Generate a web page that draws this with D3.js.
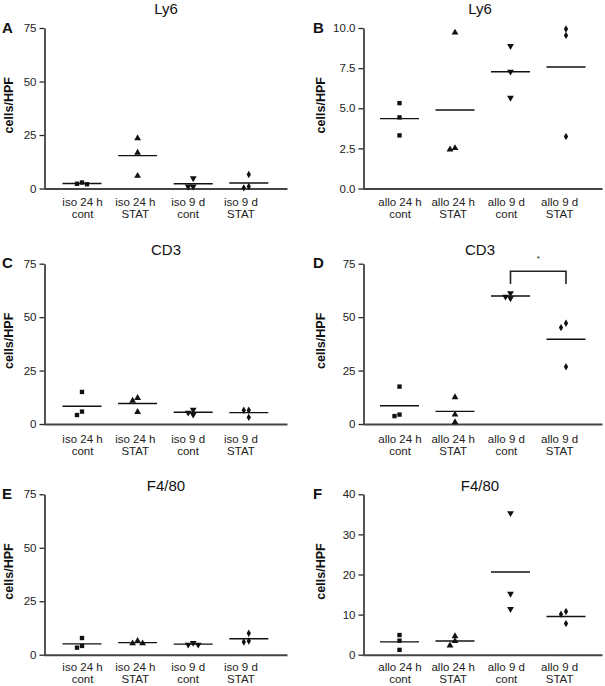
<!DOCTYPE html>
<html>
<head>
<meta charset="utf-8">
<script src="https://cdn.jsdelivr.net/npm/d3@7"></script>
<style>
  html, body { margin: 0; padding: 0; background: #fff; }
  svg { display: block; font-family: "Liberation Sans", Arial, Helvetica, sans-serif; }
</style>
</head>
<body>
<svg id="chart" width="605" height="686"></svg>
<script>
// ---------------- data ----------------
const isoCategories = [["iso 24 h", "cont"], ["iso 24 h", "STAT"], ["iso 9 d", "cont"], ["iso 9 d", "STAT"]];
const alloCategories = [["allo 24 h", "cont"], ["allo 24 h", "STAT"], ["allo 9 d", "cont"], ["allo 9 d", "STAT"]];

const panelLetters = ["A", "B", "C", "D", "E", "F"];
const panelTitles = ["Ly6", "Ly6", "CD3", "CD3", "F4/80", "F4/80"];
const yAxisLabel = "cells/HPF";

// values per category (3 animals each)
const ly6Iso   = [[2.8, 2.0, 2.2], [23.5, 16.7, 5.9], [4.8, 0.9, 0.9], [6.5, 0.3, 0.9]];
const ly6Allo  = [[5.32, 4.43, 3.31], [9.71, 2.43, 2.52], [8.88, 7.28, 5.65], [9.94, 9.54, 3.24]];
const cd3Iso   = [[15.0, 5.8, 4.2], [12.2, 10.9, 5.6], [6.7, 4.4, 5.3], [6.4, 6.4, 3.1]];
const cd3Allo  = [[17.5, 3.7, 4.4], [12.5, 4.4, 0.8], [61.2, 58.8, 59.6], [47.1, 45.1, 26.8]];
const f480Iso  = [[7.8, 3.3, 4.1], [6.4, 5.3, 5.3], [5.5, 4.7, 4.7], [10.0, 5.9, 6.4]];
const f480Allo = [[4.9, 3.5, 1.2], [4.6, 3.4, 2.3], [35.3, 15.2, 11.4], [10.75, 10.1, 7.75]];

// y-axis ticks
const ticks75 = [0, 25, 50, 75];
const ticks10 = [0, 2.5, 5, 7.5, 10];
const ticks40 = [0, 10, 20, 30, 40];

// significance annotation in panel D (between "allo 9 d cont" and "allo 9 d STAT")
const sigPairD = [2, 3];
const sigBracketD = { top: 71.5, bottom: 65.5, star: 78 };
const sigLabel = "*";

// ---------------- layout ----------------
const columns = [
  { axisX: 44.5, axisEnd: 287, dataStart: 37.5, dataStep: 55.6, labelStart: 38, labelStep: 52.8, ylabX: 13, letterX: 2, titleX: 166 },
  { axisX: 363.5, axisEnd: 602, dataStart: 36, dataStep: 55.5, labelStart: 36.5, labelStep: 53.2, ylabX: 325, letterX: 313, titleX: 480 }
];
const rows = [
  { top: 28, bottom: 188.5, titleY: 14, letterY: 33, lab1: 17.5, lab2: 29 },
  { top: 263.7, bottom: 424, titleY: 255, letterY: 268, lab1: 19, lab2: 30.5 },
  { top: 494.3, bottom: 654.7, titleY: 490.5, letterY: 498.5, lab1: 16, lab2: 28 }
];

const panels = [
  { values: ly6Iso,   cats: isoCategories,  domain: [0, 75], ticks: ticks75, fmt: d3.format("d") },
  { values: ly6Allo,  cats: alloCategories, domain: [0, 10], ticks: ticks10, fmt: d3.format(".1f") },
  { values: cd3Iso,   cats: isoCategories,  domain: [0, 75], ticks: ticks75, fmt: d3.format("d") },
  { values: cd3Allo,  cats: alloCategories, domain: [0, 75], ticks: ticks75, fmt: d3.format("d"), sig: true },
  { values: f480Iso,  cats: isoCategories,  domain: [0, 75], ticks: ticks75, fmt: d3.format("d") },
  { values: f480Allo, cats: alloCategories, domain: [0, 40], ticks: ticks40, fmt: d3.format("d") }
];

const symbols = [d3.symbolSquare, d3.symbolTriangle, d3.symbolTriangle, d3.symbolDiamond];
const symbolSizes = [19, 20, 20, 16];
const symbolRot = [0, 0, 180, 0];

const svg = d3.select("#chart");

panels.forEach((p, i) => {
  const col = columns[i % 2];
  const row = rows[Math.floor(i / 2)];
  const g = svg.append("g");

  const y = d3.scaleLinear().domain(p.domain).range([row.bottom, row.top]);
  const idx = d3.range(p.cats.length);
  const x = d3.scalePoint().domain(idx)
    .range([col.axisX + col.dataStart, col.axisX + col.dataStart + col.dataStep * (idx.length - 1)]);
  const xl = d3.scalePoint().domain(idx)
    .range([col.axisX + col.labelStart, col.axisX + col.labelStart + col.labelStep * (idx.length - 1)]);

  // y axis
  const yAxis = d3.axisLeft(y).tickValues(p.ticks).tickFormat(p.fmt).tickSize(5).tickSizeOuter(0).tickPadding(3);
  const ya = g.append("g").attr("transform", `translate(${col.axisX},0)`).call(yAxis);
  ya.select(".domain").attr("stroke", "#2a2a2a").attr("stroke-width", 1.6);
  ya.selectAll(".tick line").attr("stroke", "#2a2a2a").attr("stroke-width", 1.3);
  ya.selectAll(".tick text").attr("fill", "#222").style("font-size", "11.5px")
    .style("font-family", "'Liberation Sans', Arial, sans-serif");

  // x axis line (no ticks)
  const xs = d3.scaleLinear().domain([0, 1]).range([col.axisX - 0.8, col.axisEnd]);
  const xa = g.append("g").attr("transform", `translate(0,${row.bottom})`)
    .call(d3.axisBottom(xs).tickValues([]).tickSizeOuter(0));
  xa.select(".domain").attr("stroke", "#444").attr("stroke-width", 2);

  // category labels
  idx.forEach(k => {
    const t = g.append("text").attr("text-anchor", "middle").attr("fill", "#222")
      .style("font-size", "11.5px");
    t.append("tspan").attr("x", xl(k)).attr("y", row.bottom + row.lab1).text(p.cats[k][0]);
    t.append("tspan").attr("x", xl(k)).attr("y", row.bottom + row.lab2).text(p.cats[k][1]);
  });

  // title
  g.append("text").attr("x", col.titleX).attr("y", row.titleY).attr("text-anchor", "middle")
    .attr("fill", "#111").style("font-size", "15px").text(panelTitles[i]);
  // panel letter
  g.append("text").attr("x", col.letterX).attr("y", row.letterY)
    .attr("fill", "#111").style("font-size", "15px").style("font-weight", "bold").text(panelLetters[i]);
  // y label
  const ymid = (row.top + row.bottom) / 2 - 3;
  g.append("text").attr("transform", `translate(${col.ylabX},${ymid}) rotate(-90)`)
    .attr("text-anchor", "middle").attr("fill", "#111")
    .style("font-size", "12.5px").style("font-weight", "bold").text(yAxisLabel);

  // points + mean lines
  p.values.forEach((vals, k) => {
    const cx = x(k);
    // simple beeswarm to avoid overlap
    const placed = [];
    const order = vals.map((v, j) => ({ v, j })).sort((a, b) => b.v - a.v);
    const cands = [0, -5, 5, -10, 10];
    order.forEach(o => {
      const py = y(o.v);
      let dx = 0;
      for (const c of cands) {
        if (!placed.some(q => Math.abs(q.py - py) < 4.5 && Math.abs(q.dx - c) < 4.5)) { dx = c; break; }
      }
      placed.push({ py, dx, v: o.v });
    });
    const sym = d3.symbol().type(symbols[k]).size(symbolSizes[k]);
    placed.forEach(q => {
      g.append("path").attr("d", sym())
        .attr("transform", `translate(${cx + q.dx},${q.py}) rotate(${symbolRot[k]})`)
        .attr("fill", "#111");
    });
    const m = d3.mean(vals);
    g.append("line").attr("x1", cx - 19.5).attr("x2", cx + 19.5)
      .attr("y1", y(m)).attr("y2", y(m)).attr("stroke", "#111").attr("stroke-width", 1.4);
  });

  // significance bracket
  if (p.sig) {
    const xa1 = x(sigPairD[0]), xa2 = x(sigPairD[1]);
    const path = d3.path();
    path.moveTo(xa1, y(sigBracketD.bottom));
    path.lineTo(xa1, y(sigBracketD.top));
    path.lineTo(xa2, y(sigBracketD.top));
    path.lineTo(xa2, y(sigBracketD.bottom));
    g.append("path").attr("d", path.toString()).attr("fill", "none")
      .attr("stroke", "#222").attr("stroke-width", 1.6);
    g.append("text").attr("x", (xa1 + xa2) / 2).attr("y", y(sigBracketD.star) + 4)
      .attr("text-anchor", "middle").style("font-size", "8px").attr("fill", "#222").text(sigLabel);
  }
});
</script>
</body>
</html>
